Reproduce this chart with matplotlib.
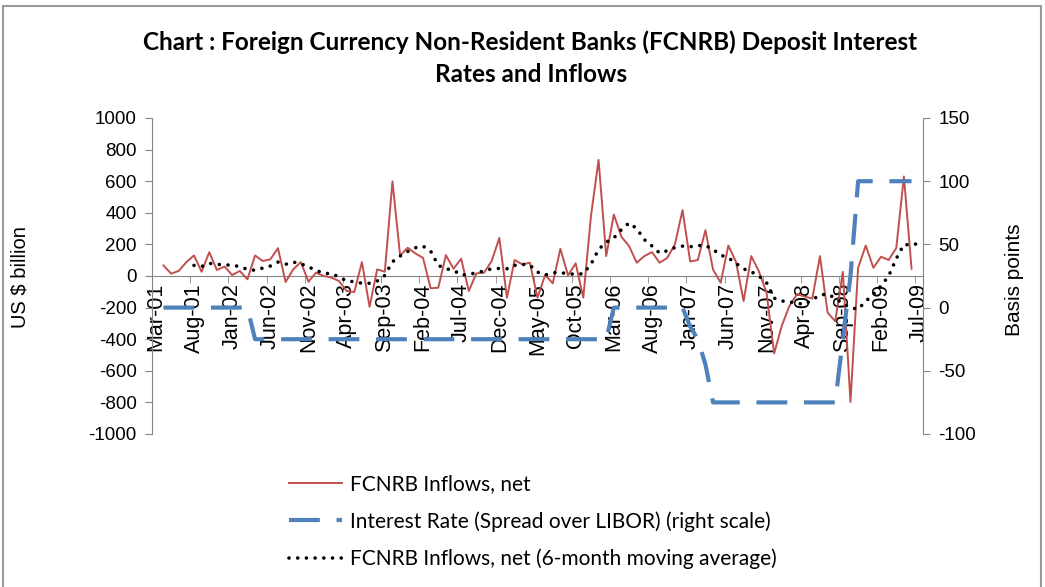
import matplotlib
matplotlib.use("Agg")
import matplotlib.pyplot as plt
import numpy as np
from matplotlib.lines import Line2D
from matplotlib.patches import Rectangle
from matplotlib.ticker import FixedLocator, NullFormatter

# monthly categories Mar-01 .. Jul-09
categories = ["%s-%02d" % (m, y % 100)
              for y in range(2001, 2010)
              for m in ["Jan", "Feb", "Mar", "Apr", "May", "Jun",
                        "Jul", "Aug", "Sep", "Oct", "Nov", "Dec"]][2:103]

# FCNRB inflows, net (US $ million) Apr-01 .. Jun-09
inflows = [None,
           67, 15, 32, 88, 130, 27, 151, 38, 60, 6,
           32, -21, 130, 95, 105, 176, -38, 42, 88, -36,
           21, 0, -10, -32, -95, -101, 88, -195, 42, 27,
           599, 130, 179, 143, 115, -78, -74, 132, 46, 109,
           -95, 17, 21, 95, 241, -137, 101, 74, 84, -137,
           6, -46, 172, 4, 80, -137, 378, 735, 126, 389,
           248, 189, 84, 126, 151, 84, 115, 200, 417, 92,
           101, 290, 40, -42, 193, 90, -158, 126, 30, -105,
           -490, -315, -189, -115, -130, -143, 126, -231, -287, 26,
           -798, 52, 193, 52, 122, 101, 178, 630, 46,
           None]

# interest rate spread over LIBOR (basis points)
spread = [None,
          0, 0, 0, 0, 0, 0, 0, 0, 0, 0,
          0, 0, -25, -25, -25, -25, -25, -25, -25, -25,
          -25, -25, -25, -25, -25, -25, -25, -25, -25, -25,
          -25, -25, -25, -25, -25, -25, -25, -25, -25, -25,
          -25, -25, -25, -25, -25, -25, -25, -25, -25, -25,
          -25, -25, -25, -25, -25, -25, -25, -25, -25, 0,
          0, 0, 0, 0, 0, 0, 0, 0, 0, -15,
          -25, -45, -75, -75, -75, -75, -75, -75, -75, -75,
          -75, -75, -75, -75, -75, -75, -75, -75, -75, -25,
          25, 100, 100, 100, 100, 100, 100, 100, 100,
          None]

# 6-month moving average of inflows
moving_avg = [None, None, None, None, None,
              67, 60, 80, 74, 70,
              69, 59, 42, 36, 50, 63, 88, 74, 88, 78,
              57, 36, 17, 15, -6, -32, -36, -46, -46, -32,
              4, 90, 126, 155, 179, 189, 158, 67, 46, 36,
              6, 10, 21, 32, 46, 48, 46, 67, 74, 69,
              25, 6, 21, 21, 15, 10, 15, 74, 168, 214,
              241, 294, 336, 300, 230, 190, 145, 160, 180, 189,
              185, 193, 193, 168, 132, 115, 80, 45, 27, 0,
              -42, -140, -158, -164, -172, -180, -150, -120, -115, -140,
              -175, -200, -210, -160, -115, -63, 0, 110, 200, 195,
              208]

left_ticks = [-1000, -800, -600, -400, -200, 0, 200, 400, 600, 800, 1000]
right_ticks = [-100, -50, 0, 50, 100, 150]

red = "#C0504D"
blue = "#4F81BD"
grey = "#868686"
tick_font = ["Liberation Sans Narrow", "Liberation Sans", "DejaVu Sans"]
text_font = ["Lato", "DejaVu Sans"]

x = np.arange(len(categories))
inflows_arr = np.array(inflows, dtype=float)
spread_arr = np.array(spread, dtype=float)
ma_arr = np.array(moving_avg, dtype=float)

dot_style = (0, (0.01, 2.4))

fig = plt.figure(figsize=(10.45, 5.87), dpi=100)
fig.add_artist(Rectangle((3 / 1045, -0.1), 1038 / 1045, 1 - 6 / 587 + 0.1,
                         transform=fig.transFigure, fill=False,
                         edgecolor="#9a9a9a", lw=1.5))

ax = fig.add_axes([152 / 1045, 1 - 434 / 587, 771 / 1045, 316 / 587])
ax2 = ax.twinx()

ax.plot(x, inflows_arr, color=red, lw=1.4, zorder=3)
ax.plot(x, ma_arr, color="black", lw=2.6, linestyle=dot_style,
        dash_capstyle="round", zorder=4)
ax2.plot(x, spread_arr, color=blue, lw=3.0, dashes=(7.4, 4.0), zorder=3)

ax.set_xlim(-0.5, len(categories) - 0.5)
ax.set_ylim(-1000, 1000)
ax2.set_ylim(-100, 150)

for s in ["top", "right"]:
    ax.spines[s].set_visible(False)
for s in ["top", "left", "bottom"]:
    ax2.spines[s].set_visible(False)
ax.spines["left"].set_color(grey)
ax.spines["bottom"].set_color(grey)
ax.spines["bottom"].set_position(("data", 0))
ax2.spines["right"].set_color(grey)

# category labels every 5 months, tick marks between categories
label_pos = x[::5]
ax.xaxis.set_major_locator(FixedLocator(label_pos))
ax.set_xticklabels([categories[i] for i in label_pos], rotation=90,
                   family=tick_font, fontsize=15.5)
ax.xaxis.set_minor_locator(FixedLocator(label_pos[1:] - 0.5))
ax.xaxis.set_minor_formatter(NullFormatter())
ax.tick_params(axis="x", which="major", length=0, pad=5)
ax.tick_params(axis="x", which="minor", length=5, color=grey)

ax.set_yticks(left_ticks)
ax.set_yticklabels([str(v) for v in left_ticks], family=tick_font, fontsize=13.5)
ax.tick_params(axis="y", length=5, color=grey, pad=6)
ax2.set_yticks(right_ticks)
ax2.set_yticklabels([str(v) for v in right_ticks], family=tick_font, fontsize=13.5)
ax2.tick_params(axis="y", length=5, color=grey, pad=6)

fig.text(20 / 1045, 1 - 277 / 587, "US $ billion", rotation=90,
         ha="center", va="center", family=tick_font, fontsize=14.5)
fig.text(1015 / 1045, 1 - 280 / 587, "Basis points", rotation=90,
         ha="center", va="center", family=tick_font, fontsize=15)

fig.text(530 / 1045, 1 - 42 / 587,
         "Chart : Foreign Currency Non-Resident Banks (FCNRB) Deposit Interest",
         ha="center", va="center", family=text_font, fontsize=17.5, weight="bold")
fig.text(531 / 1045, 1 - 74 / 587, "Rates and Inflows",
         ha="center", va="center", family=text_font, fontsize=17.5, weight="bold")

handles = [
    Line2D([], [], color=red, lw=1.4),
    Line2D([], [], color=blue, lw=3.0, dashes=(7.4, 4.0)),
    Line2D([], [], color="black", lw=2.6, linestyle=dot_style,
           dash_capstyle="round"),
]
labels = ["FCNRB Inflows, net",
          "Interest Rate (Spread over LIBOR) (right scale)",
          "FCNRB Inflows, net (6-month moving average)"]
fig.legend(handles, labels, loc="upper left",
           bbox_to_anchor=(279 / 1045, 1 - 464 / 587), frameon=False,
           prop={"family": text_font, "size": 15}, handlelength=2.5,
           handletextpad=0.4, labelspacing=0.8, borderpad=0)

fig.savefig("out.png", dpi=100)
